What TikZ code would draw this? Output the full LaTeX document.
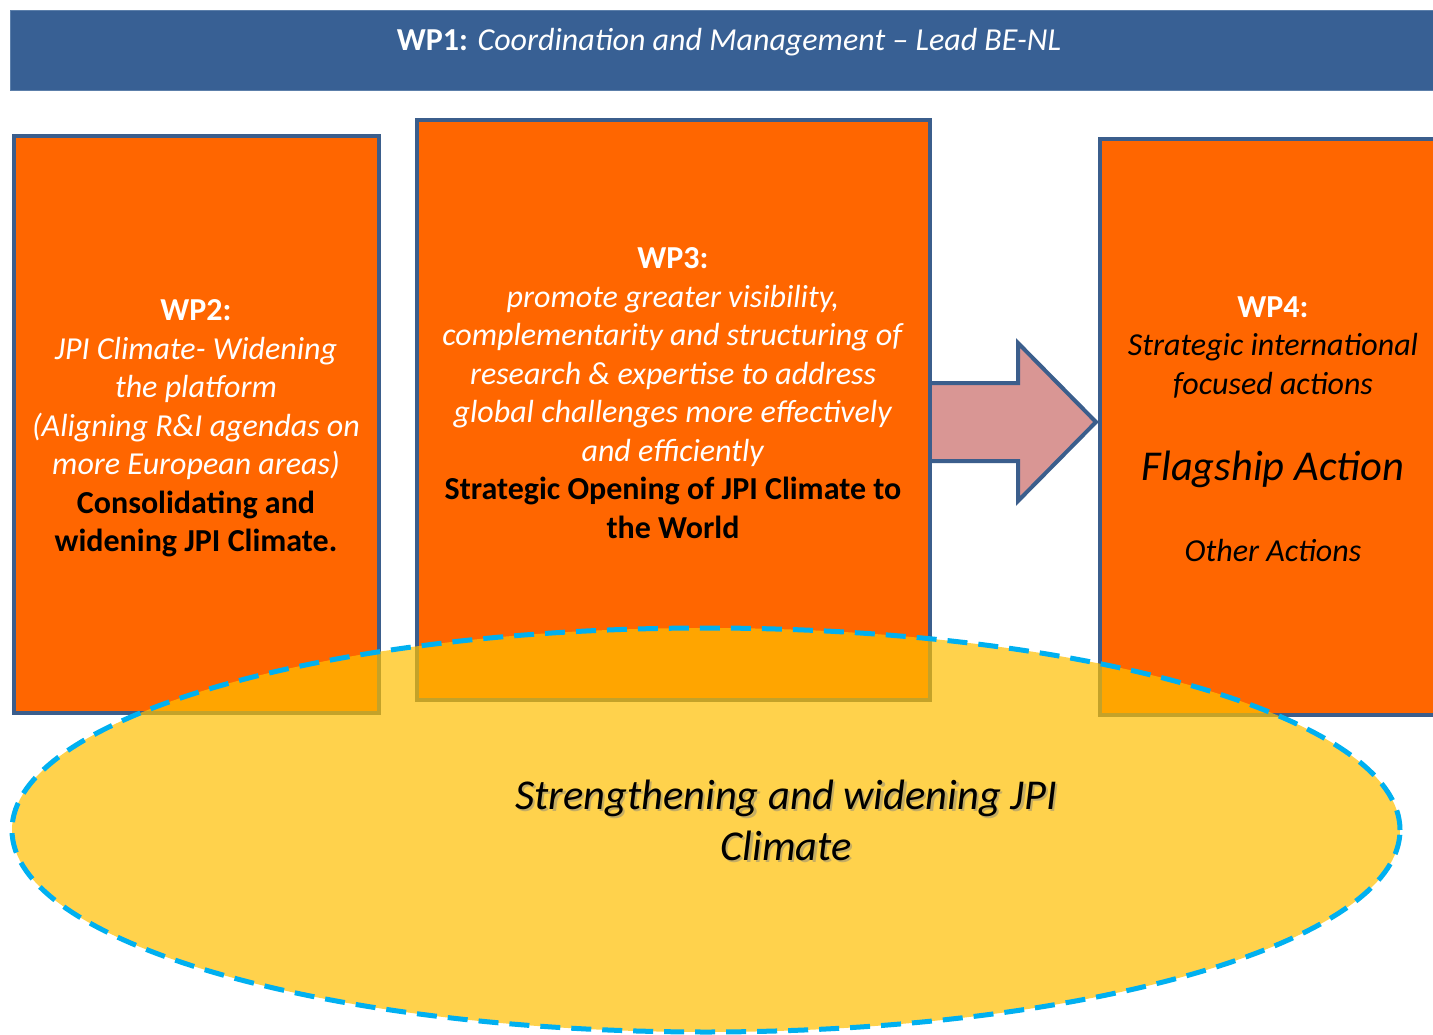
\documentclass[tikz,border=0pt]{standalone}
\usepackage{fontspec}
\setmainfont{Carlito}
\usetikzlibrary{calc,shapes.geometric}
\definecolor{wporange}{HTML}{FF6600}
\definecolor{wpborder}{HTML}{3B5E8C}
\definecolor{wpbar}{HTML}{386094}
\definecolor{wpbaredge}{HTML}{5C7FAA}
\definecolor{arrowfill}{HTML}{D99694}
\definecolor{ellfill}{HTML}{FFC000}
\definecolor{elldash}{HTML}{00B0F0}
\begin{document}
\begin{tikzpicture}[x=1pt,y=-1pt,
  wpbox/.style={draw=wpborder, line width=4pt, fill=wporange, inner sep=0pt, outer sep=0pt, anchor=north west},
  txt/.style={align=center, inner sep=0pt, font=\fontsize{32}{38.5}\selectfont},
  big/.style={align=center, inner sep=0pt, font=\fontsize{42.5}{51}\selectfont\itshape},
]
\useasboundingbox (0,0) rectangle (1433,1035);
\clip (0,0) rectangle (1433,1035);
\fill[white] (0,0) rectangle (1433,1035);

% WP1 bar
\node[draw=wpbaredge, line width=1pt, fill=wpbar, minimum width=1438pt, minimum height=80pt,
      anchor=north west, inner sep=0pt, outer sep=0pt] (wp1) at (10.5,10.5) {};
\node[txt, text=white, anchor=center] (wp1t) at (729,42)
  {\textbf{WP1:} \textit{Coordination and Management -- Lead BE-NL}};

% arrow between WP3 and WP4
\coordinate (as) at (925,383);
\draw[wpborder, line width=4pt, fill=arrowfill, line join=miter]
  (as) -- (1018,383) -- (1018,343) -- (1096,422) -- (1018,501) -- (1018,461) -- (925,461);

% boxes
\node[wpbox, minimum width=365pt, minimum height=577pt] (wp2) at (14,136) {};
\node[wpbox, minimum width=513pt, minimum height=580pt] (wp3) at (417,120) {};
\node[wpbox, minimum width=360pt, minimum height=576pt] (wp4) at (1100,139) {};

% texts
\node[txt, text=white] (wp2t) at (196,428.5)
  {\textbf{WP2:}\\
   \textit{JPI Climate- Widening}\\
   \textit{the platform}\\
   \textit{(Aligning R\&I agendas on}\\
   \textit{more European areas)}\\
   \textcolor{black}{\textbf{Consolidating and}}\\
   \textcolor{black}{\textbf{widening JPI Climate.}}};

\node[txt, text=white] (wp3t) at (673,393)
  {\textbf{WP3:}\\
   \textit{promote greater visibility,}\\
   \textit{complementarity and structuring of}\\
   \textit{research \& expertise to address}\\
   \textit{global challenges more effectively}\\
   \textit{and efficiently}\\
   \textcolor{black}{\textbf{Strategic Opening of JPI Climate to}}\\
   \textcolor{black}{\textbf{the World}}};

\node[txt, text=white] (wp4t) at (1273,347)
  {\textbf{WP4:}\\
   \textcolor{black}{\textit{Strategic international}}\\
   \textcolor{black}{\textit{focused actions}}};
\node[inner sep=0pt, font=\fontsize{42.5}{51}\selectfont\itshape] (flag) at (1273,469) {Flagship Action};
\node[txt, font=\fontsize{32}{38.5}\selectfont\itshape] (other) at (1273,551) {Other Actions};

% ellipse
\node[ellipse, draw=elldash, line width=5pt, dash pattern=on 20pt off 11pt,
      fill=ellfill, fill opacity=0.7, draw opacity=1, minimum width=1388pt, minimum height=404pt,
      inner sep=0pt, outer sep=0pt] (base) at (706,830) {};
\node[big, text=black!50, text opacity=0.45] (baseshadow) at (788.5,822.5)
  {Strengthening and widening JPI\\Climate};
\node[big] (baset) at (786,820)
  {Strengthening and widening JPI\\Climate};
\end{tikzpicture}
\end{document}
